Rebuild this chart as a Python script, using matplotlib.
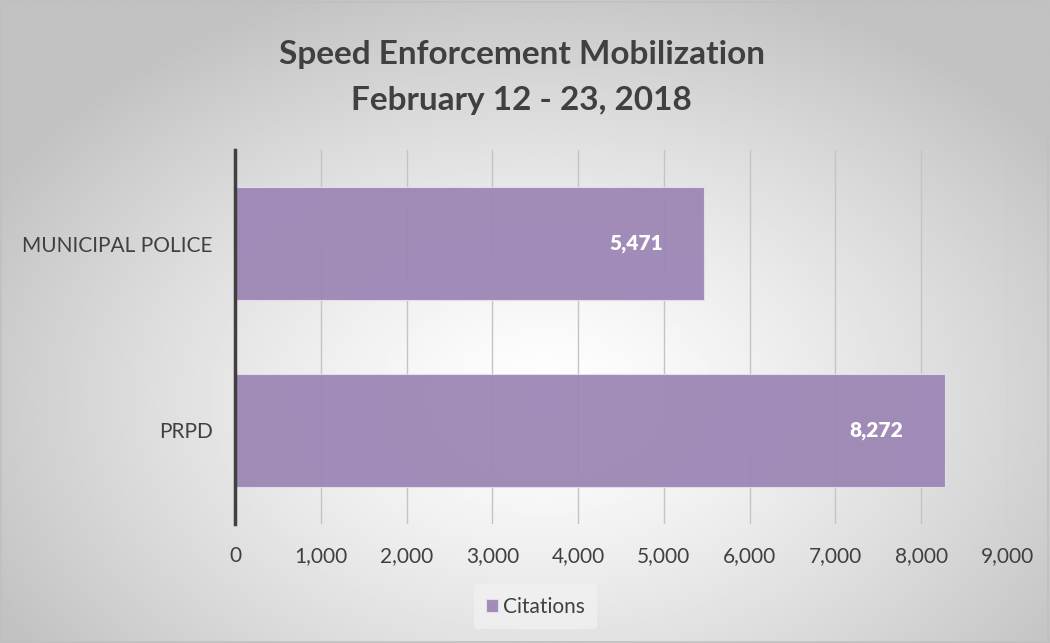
import matplotlib
matplotlib.use("Agg")
import matplotlib.pyplot as plt
import matplotlib.ticker as mtick
import numpy as np

# data
categories = ["MUNICIPAL POLICE", "PRPD"]
citations = [5471, 8272]
x_ticks = [0, 1000, 2000, 3000, 4000, 5000, 6000, 7000, 8000, 9000]
title = "Speed Enforcement Mobilization\nFebruary 12 - 23, 2018"

BAR_COLOR = "#9d86b5"
TEXT_COLOR = "#404040"

plt.rcParams["font.family"] = ["Lato", "DejaVu Sans"]

fig = plt.figure(figsize=(10.5, 6.43), dpi=100)

# radial gradient background
bg = fig.add_axes([0, 0, 1, 1], zorder=-10)
gx, gy = np.meshgrid(np.linspace(0, 1, 400), np.linspace(0, 1, 250))
r = np.sqrt(((gx - 0.52) / 0.75) ** 2 + ((gy - 0.38) / 0.85) ** 2)
shade = np.clip(1.0 - 0.32 * r ** 1.3, 0.76, 1.0)
bg.imshow(shade, cmap="gray", vmin=0, vmax=1, extent=[0, 1, 0, 1],
          aspect="auto", origin="lower")
bg.add_patch(plt.Rectangle((0.001, 0.002), 0.997, 0.995, fill=False,
                           edgecolor="#c0c0c0", lw=1.2, transform=bg.transAxes))
bg.axis("off")

ax = fig.add_axes([235 / 1050, 1 - 524 / 643, (1007 - 235) / 1050, (524 - 150) / 643])
ax.patch.set_alpha(0)

y = np.arange(len(categories))
bars = ax.barh(y, citations, height=0.6, color=BAR_COLOR, alpha=0.95,
               edgecolor="#e6ddef", linewidth=0.8, label="Citations", zorder=2)
ax.set_ylim(1.5, -0.5)
ax.set_xlim(0, 9000)
ax.set_xticks(x_ticks)
ax.xaxis.set_major_formatter(mtick.FuncFormatter(lambda v, _: f"{int(v):,}"))
ax.set_yticks(y)
ax.set_yticklabels(categories)

ax.grid(axis="x", color="#c4c4c4", lw=1.0, zorder=1)
ax.set_axisbelow(True)
for s in ["top", "right", "bottom"]:
    ax.spines[s].set_visible(False)
ax.spines["left"].set_color("#404040")
ax.spines["left"].set_linewidth(2.5)
ax.spines["left"].set_zorder(5)

ax.tick_params(axis="x", length=0, pad=16, labelsize=15, labelcolor=TEXT_COLOR)
ax.tick_params(axis="y", length=0, pad=16, labelsize=15, labelcolor=TEXT_COLOR)

for b, v in zip(bars, citations):
    ax.text(v - 480, b.get_y() + b.get_height() / 2, f"{v:,}", ha="right",
            va="center", color="white", fontsize=15, fontweight="heavy", zorder=4)

fig.text(0.497, 0.88, title, ha="center", va="center", fontsize=24,
         fontweight="bold", color=TEXT_COLOR, linespacing=1.7)

leg = fig.legend(loc="center", bbox_to_anchor=(0.51, 0.056), frameon=True,
                 fontsize=15, handlelength=0.55, handleheight=0.55,
                 handletextpad=0.25, borderpad=0.6)
leg.get_frame().set_facecolor("#f2f2f2")
leg.get_frame().set_edgecolor("none")
leg.get_frame().set_alpha(0.7)
for t in leg.get_texts():
    t.set_color(TEXT_COLOR)

fig.savefig("out.png", dpi=100)
